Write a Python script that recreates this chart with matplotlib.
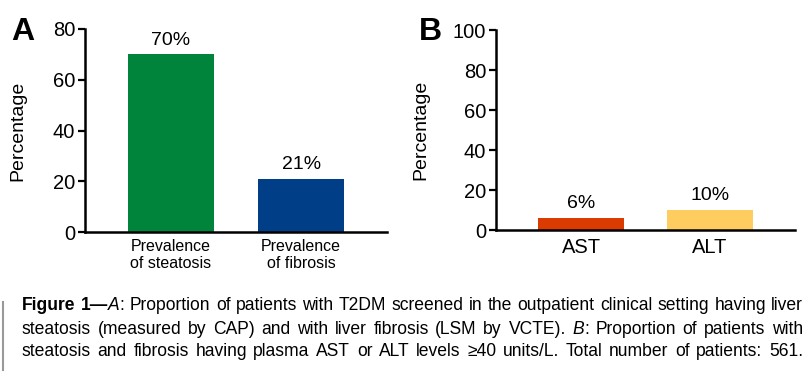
import matplotlib
matplotlib.use("Agg")
from matplotlib import pyplot as plt

# panel A
labels_a = ["Prevalence\nof steatosis", "Prevalence\nof fibrosis"]
values_a = [70, 21]
colors_a = ["#00843c", "#003f87"]

# panel B
labels_b = ["AST", "ALT"]
values_b = [6, 10]
colors_b = ["#d93b00", "#ffcd5f"]

# caption lines: each word is a list of (text, style) pieces
caption = [
    [[("Figure", "b")], [("1\u2014", "b"), ("A", "i"), (":", "n")], "Proportion of patients with T2DM screened in the outpatient clinical setting having liver"],
    ["steatosis (measured by CAP) and with liver fibrosis (LSM by VCTE).", [("B", "i"), (":", "n")], "Proportion of patients with"],
    ["steatosis and fibrosis having plasma AST or ALT levels \u226540 units/L. Total number of patients: 561."],
]

plt.rcParams['font.family'] = ['Liberation Sans', 'DejaVu Sans']

fig = plt.figure(figsize=(8.1, 3.85), dpi=100)
W, H = 810, 385


def panel(rect, labels, values, colors, ymax, step, xfs, xpad):
    l, t, r, b = rect
    ax = fig.add_axes([l / W, 1 - b / H, (r - l) / W, (b - t) / H])
    xs = range(len(values))
    ax.bar(xs, values, width=0.665, color=colors)
    for x, v in zip(xs, values):
        ax.annotate("%d%%" % v, (x, v), xytext=(0, 4), textcoords="offset points",
                    ha="center", va="bottom", fontsize=14)
    ax.set_xlim(-0.66, 1.66)
    ax.set_ylim(0, ymax)
    ax.set_yticks(range(0, ymax + 1, step))
    ax.set_xticks(list(xs))
    ax.set_xticklabels(labels, fontsize=xfs, linespacing=1.2)
    ax.tick_params(axis="x", length=0, pad=xpad)
    ax.tick_params(axis="y", length=5, width=1.6, labelsize=14.5, pad=2)
    for s in ["top", "right"]:
        ax.spines[s].set_visible(False)
    for s in ["left", "bottom"]:
        ax.spines[s].set_linewidth(1.8)
    ax.set_ylabel("Percentage", fontsize=14)
    return ax


axA = panel((85, 29, 387, 232), labels_a, values_a, colors_a, 80, 20, 11.5, 5)
axA.yaxis.set_label_coords(-0.195, 0.5)
axB = panel((496, 30, 795, 230), labels_b, values_b, colors_b, 100, 20, 14.5, 6)
axB.yaxis.set_label_coords(-0.224, 0.5)

fig.text(11 / W, 1 - 32 / H, "A", fontsize=23, fontweight="bold", va="center")
fig.text(419 / W, 1 - 32 / H, "B", fontsize=23, fontweight="bold", va="center")

# caption, justified between x0 and x1
fig.add_artist(plt.Line2D([3 / W, 3 / W], [1 - 302 / H, 1 - 370 / H], color="#999999", lw=1.5))
cap_font = ['Liberation Sans', 'DejaVu Sans']
styles = {"b": dict(fontweight="bold"), "i": dict(fontstyle="italic"), "n": {}}
renderer = fig.canvas.get_renderer()
x0, x1 = 22, 803
line_y = [306, 329, 352]

rows = []
for row in caption:
    words = []
    for item in row:
        if isinstance(item, str):
            words += [[(w, "n")] for w in item.split(" ")]
        else:
            words.append(item)
    rows.append(words)


def measure(words, size):
    out, total = [], 0
    for w in words:
        pieces = []
        for txt, st in w:
            t = fig.text(0, 0, txt, fontsize=size, family=cap_font, va="center", **styles[st])
            wd = t.get_window_extent(renderer).width
            pieces.append((t, wd))
            total += wd
        out.append(pieces)
    return out, total


# pick the font size so the widest line fits with normal word spacing
base = 10
need = 0
for words in rows:
    placed, total = measure(words, base)
    for pieces in placed:
        for t, _ in pieces:
            t.remove()
    need = max(need, (total + (len(words) - 1) * 0.28 * base * 100 / 72) / (x1 - x0))
size = base / need

for words, yline in zip(rows, line_y):
    placed, total = measure(words, size)
    gap = (x1 - x0 - total) / (len(placed) - 1)
    x = x0
    for pieces in placed:
        for t, wd in pieces:
            t.set_position((x / W, 1 - yline / H))
            x += wd
        x += gap

fig.savefig("out.png", dpi=100)
